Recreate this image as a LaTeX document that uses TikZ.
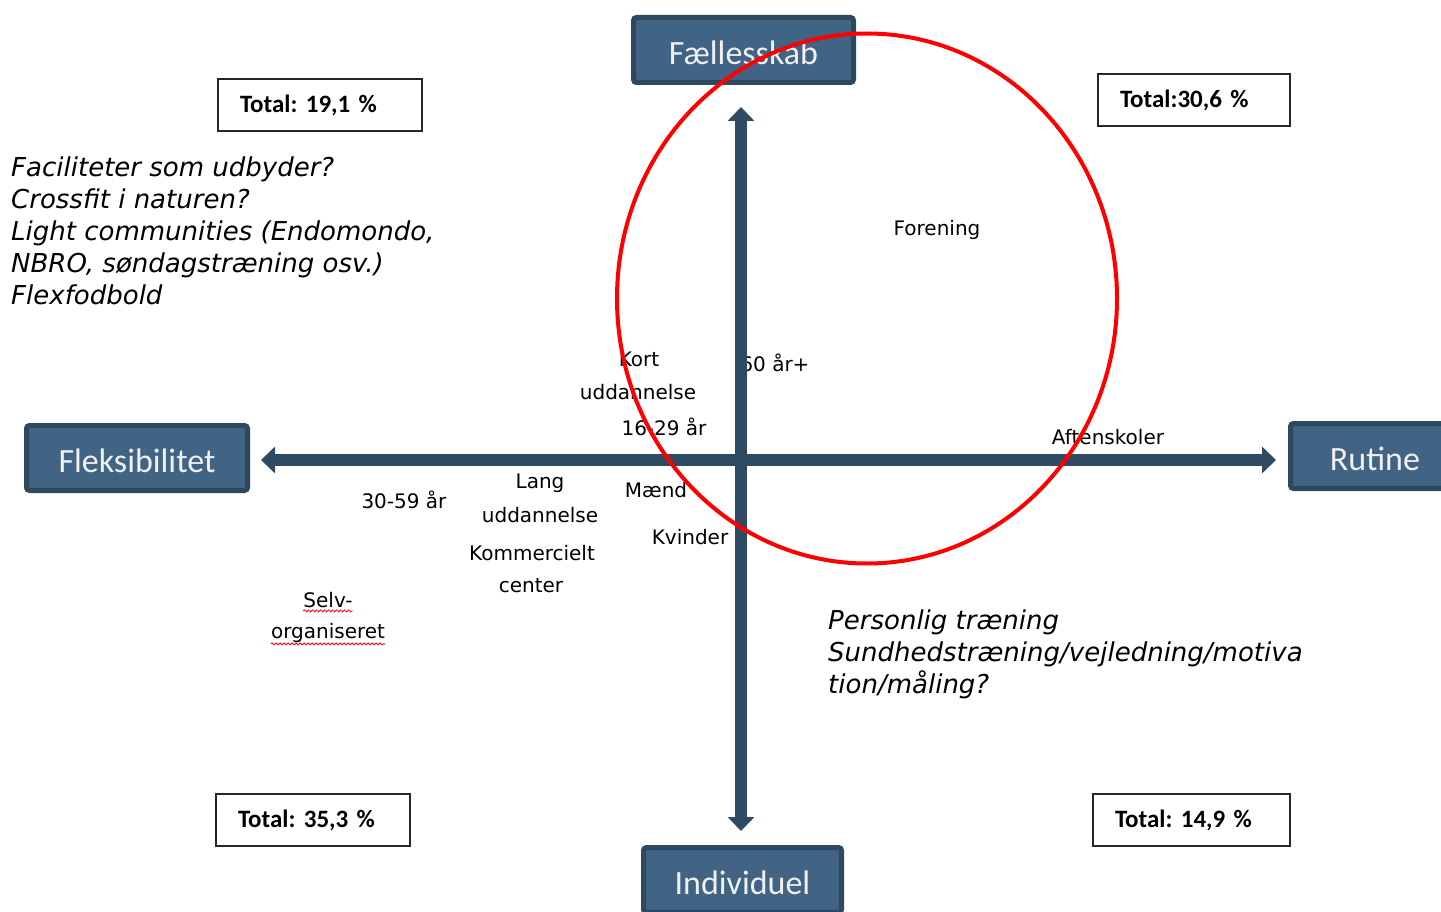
\documentclass[tikz,border=0pt]{standalone}
\usepackage{fontspec}
\setmainfont{DejaVu Sans}
\newfontfamily\calib{Carlito}
\usetikzlibrary{arrows.meta,decorations.pathmorphing}
\definecolor{boxfill}{HTML}{416384}
\definecolor{boxline}{HTML}{2E4860}
\definecolor{axiscol}{HTML}{2F4B63}
\frenchspacing
\begin{document}
\begin{tikzpicture}[x=1pt,y=-1pt,
  axisbox/.style={draw=boxline, line width=5pt, fill=boxfill, rounded corners=3pt,
    text=white!94!black, font=\calib\fontsize{34}{40}\selectfont, inner sep=0pt,
    text height=29pt, text depth=0pt},
  totalbox/.style={draw=black!85, line width=1.5pt, font=\calib\bfseries\fontsize{25}{28}\selectfont,
    align=left, inner xsep=22pt, inner ysep=0pt, minimum height=52pt},
  lbl/.style={font=\fontsize{20}{24}\selectfont, inner sep=0pt, text=black},
  note/.style={font=\itshape\fontsize{26}{32}\selectfont, align=left, inner sep=0pt, anchor=north west},
  axisline/.style={draw=axiscol, line width=12pt,
    {Triangle[width=26pt,length=14pt]}-{Triangle[width=26pt,length=14pt]}},
  wavy/.style={draw=red, line width=0.8pt, decorate, decoration={snake, amplitude=1pt, segment length=4pt}}
]
\clip (0,0) rectangle (1441,912);
\fill[white] (0,0) rectangle (1441,912);

% notes
\node[note] (n1) at (11,157) {Faciliteter som udbyder?\\Crossfit i naturen?\\Light communities (Endomondo,\\NBRO, søndagstræning osv.)\\Flexfodbold};
\node[note] (n2) at (828,610) {Personlig træning\\Sundhedstræning/vejledning/motiva\\tion/måling?};

% labels
\node[lbl] (forening) at (937,230) {Forening};
\node[lbl] (kort) at (639,359) {Kort};
\node[lbl] (kortud) at (638,392) {uddannelse};
\node[lbl] (ung) at (664,427) {16-29 år};
\node[lbl] (aeldre) at (775,363) {60 år+};
\node[lbl] (aften) at (1108,437) {Aftenskoler};
\node[lbl] (mid) at (404,500) {30-59 år};
\node[lbl] (lang) at (540,483) {Lang};
\node[lbl] (langud) at (540,515) {uddannelse};
\node[lbl] (maend) at (656,490) {Mænd};
\node[lbl] (kvinder) at (690,537) {Kvinder};
\node[lbl] (komm) at (532,553) {Kommercielt};
\node[lbl] (center) at (531,586) {center};
\node[lbl] (selv) at (328,600) {Selv-};
\node[lbl] (org) at (328,633) {organiseret};
\draw[wavy] ([yshift=-3pt]selv.south west) -- ([yshift=-3pt]selv.south east);
\draw[wavy] ([yshift=-1pt]org.south west) -- ([yshift=-1pt]org.south east);

% axes
\coordinate (atop) at (741,107);
\coordinate (abot) at (741,831);
\coordinate (aleft) at (261,460);
\coordinate (aright) at (1276,460);
\draw[axisline] (abot) -- (atop);
\draw[axisline] (aleft) -- (aright);

% axis boxes
\node[axisbox, minimum width=220pt, minimum height=65pt] (fael) at (743.5,50) {Fællesskab};
\node[axisbox, minimum width=221pt, minimum height=65pt] (flex) at (137,458) {Fleksibilitet};
\node[axisbox, minimum width=169pt, minimum height=65pt] (rut) at (1375,456) {Rutine};
\node[axisbox, minimum width=198pt, minimum height=65pt] (ind) at (742.5,880) {Individuel};

% total boxes
\node[totalbox, text width=160pt] (t1) at (320,105) {Total: 19,1 \%};
\node[totalbox, text width=148pt] (t2) at (1194,100) {Total:30,6 \%};
\node[totalbox, text width=150pt] (t3) at (313,820) {Total: 35,3 \%};
\node[totalbox, text width=153pt] (t4) at (1191.5,820) {Total: 14,9 \%};

% red circle
\draw[red, line width=4pt] (867,298.5) ellipse [x radius=250pt, y radius=265pt];
\end{tikzpicture}
\end{document}
